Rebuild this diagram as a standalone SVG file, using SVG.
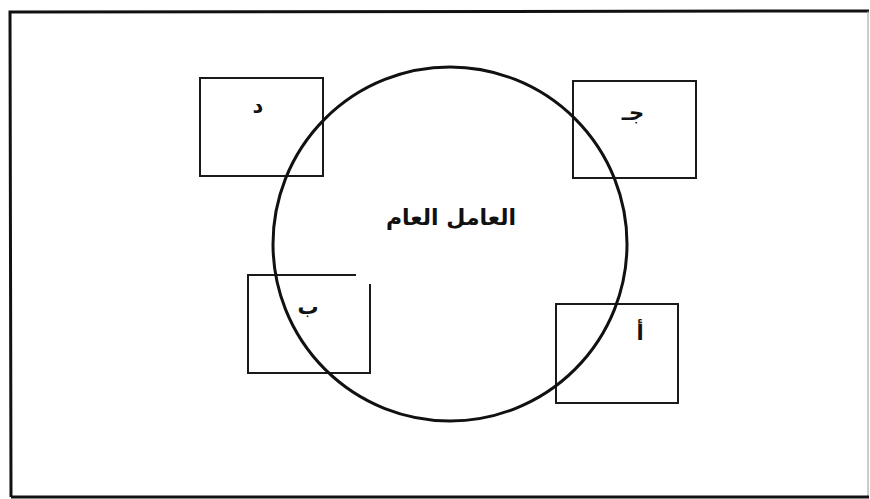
<svg xmlns="http://www.w3.org/2000/svg" width="870" height="499" viewBox="0 0 870 499">
<style>
.box{fill:none;stroke:#1a1a1a;stroke-width:2}
.lbl{font-family:"DejaVu Sans","Noto Sans",sans-serif;font-weight:bold;font-size:21px;fill:#111;text-anchor:middle}
.title{font-family:"DejaVu Sans","Noto Sans",sans-serif;font-weight:bold;font-size:22px;fill:#111;text-anchor:middle}
</style>
<rect x="0" y="0" width="870" height="499" fill="#fff"/>
<g id="frame">
<path d="M11,497 L10,12 L869,11" fill="none" stroke="#111" stroke-width="3"/>
<path d="M868,11 L868,497" fill="none" stroke="#999" stroke-width="1"/>
<path d="M11,497 L869,497" fill="none" stroke="#111" stroke-width="3"/>
</g>
<g id="box-d">
<rect class="box" x="200" y="78" width="123" height="98"/>
<text class="lbl" x="258" y="113" direction="rtl">د</text>
</g>
<g id="box-j">
<rect class="box" x="573" y="81" width="123" height="97"/>
<text class="lbl" x="633" y="120" direction="rtl">جـ</text>
</g>
<g id="box-b">
<path class="box" d="M356,275 L248,275 L248,373 L370,373 L370,284"/>
<text class="lbl" x="308" y="314" direction="rtl">ب</text>
</g>
<g id="box-a">
<rect class="box" x="556" y="304" width="122" height="99"/>
<text class="lbl" x="640" y="340" direction="rtl">أ</text>
</g>
<g id="factor">
<circle cx="450" cy="244" r="177" fill="none" stroke="#111" stroke-width="3"/>
<text class="title" x="451" y="225" direction="rtl">العامل العام</text>
</g>
</svg>
